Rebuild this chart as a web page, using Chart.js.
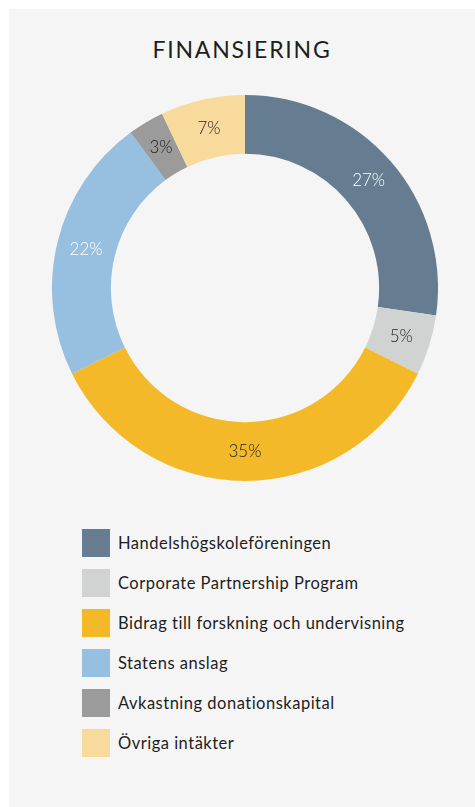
<!DOCTYPE html>
<html>
<head>
<meta charset="utf-8">
<script src="https://cdn.jsdelivr.net/npm/chart.js@4"></script>
<style>
  html, body { margin: 0; padding: 0; background: #fff; }
  body { width: 475px; height: 807px; position: relative; overflow: hidden; font-family: Lato, "Open Sans", sans-serif; }
  #panel { position: absolute; left: 9px; top: 9px; width: 466px; height: 798px; background: #f5f5f5; }
  #titel { position: absolute; left: 9px; width: 466px; top: 35px; text-align: center; font-size: 23px; letter-spacing: 1.8px; color: #1e1e1e; font-weight: 400; }
  #wrap { position: absolute; left: 52px; top: 95px; width: 386px; height: 386px; }
  #legend { position: absolute; left: 82px; top: 529px; margin: 0; padding: 0; list-style: none; }
  #legend li { height: 28px; margin-bottom: 12px; display: flex; align-items: center; font-size: 16.5px; letter-spacing: 0.5px; color: #1e1e1e; }
  #legend span.box { width: 28px; height: 28px; margin-right: 8px; flex: none; }
</style>
</head>
<body>
<div id="panel"></div>
<div id="titel">FINANSIERING</div>
<div id="wrap"><canvas id="graf"></canvas></div>
<ul id="legend"></ul>
<script>
// --- DATA ---
const kategorier = ['Handelshögskoleföreningen', 'Corporate Partnership Program', 'Bidrag till forskning och undervisning', 'Statens anslag', 'Avkastning donationskapital', 'Övriga intäkter'];
const andelar = [27, 5, 35, 22, 3, 7];
const farger = ['#667d91', '#d1d3d2', '#f3b928', '#97bfe0', '#9b9b9b', '#f8da9c'];
const textfarger = ['#ffffff', '#1e1e1e', '#1e1e1e', '#ffffff', '#1e1e1e', '#1e1e1e'];

// procent-etiketter mitt i varje båge
const etiketter = {
    id: 'etiketter',
    afterDatasetsDraw(chart) {
        const ctx = chart.ctx;
        const meta = chart.getDatasetMeta(0);
        ctx.save();
        ctx.font = '300 17px Lato, sans-serif';
        ctx.textAlign = 'center';
        ctx.textBaseline = 'middle';
        meta.data.forEach((arc, i) => {
            const p = arc.tooltipPosition();
            ctx.fillStyle = textfarger[i];
            ctx.fillText(andelar[i] + '%', p.x, p.y);
        });
        ctx.restore();
    }
};

new Chart(document.getElementById('graf'), {
    type: 'doughnut',
    data: { labels: kategorier, datasets: [{ data: andelar, backgroundColor: farger, borderWidth: 0, hoverOffset: 0 }] },
    options: {
        responsive: true, maintainAspectRatio: false, animation: false,
        cutout: '69.5%',
        layout: { padding: 0 },
        plugins: { legend: { display: false }, tooltip: { enabled: false } }
    },
    plugins: [etiketter]
});

// --- LEGEND ---
const ul = document.getElementById('legend');
kategorier.forEach((k, i) => {
    const li = document.createElement('li');
    li.innerHTML = `<span class="box" style="background:${farger[i]}"></span>${k}`;
    ul.appendChild(li);
});
</script>
</body>
</html>
